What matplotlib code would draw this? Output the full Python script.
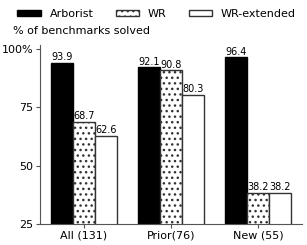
import numpy as np
import matplotlib
matplotlib.use('Agg')
import matplotlib.pyplot as plt

groups = ['All (131)', 'Prior(76)', 'New (55)']
series = ['Arborist', 'WR', 'WR-extended']
arborist = [93.9, 92.1, 96.4]
wr = [68.7, 90.8, 38.2]
wr_ext = [62.6, 80.3, 38.2]
yticks = [25, 50, 75, 100]
ytick_labels = ['25', '50', '75', '100%']

plt.rcParams['hatch.linewidth'] = 1.0
fig = plt.figure(figsize=(3.07, 2.45), dpi=100)
ax = fig.add_axes([0.130, 0.086, 0.854, 0.730])

x = np.arange(len(groups))
w = 0.25
styles = [
    dict(color='black', edgecolor='black'),
    dict(color='white', edgecolor='#333333', hatch='...'),
    dict(color='white', edgecolor='#333333'),
]
for i, (vals, st, name) in enumerate(zip([arborist, wr, wr_ext], styles, series)):
    bars = ax.bar(x + (i - 1) * w, vals, w, bottom=0, linewidth=1.0, label=name, **st)
    for b, v in zip(bars, vals):
        ax.text(b.get_x() + b.get_width() / 2, v + 0.4, f'{v:.1f}',
                ha='center', va='bottom', fontsize=7)

ax.set_ylim(25, 101.7)
ax.set_xlim(-0.506, 2.506)
ax.set_yticks(yticks)
ax.set_yticklabels(ytick_labels, fontsize=8)
ax.set_xticks(x)
ax.set_xticklabels(groups, fontsize=8)
ax.tick_params(axis='both', length=3, width=0.8, color='#555555', pad=2)
for s in ['top', 'right']:
    ax.spines[s].set_visible(False)
for s in ['left', 'bottom']:
    ax.spines[s].set_color('#555555')
    ax.spines[s].set_linewidth(0.8)

fig.text(0.042, 1 - 31 / 245, '% of benchmarks solved', fontsize=8, ha='left', va='center')
fig.legend(loc='center', bbox_to_anchor=(0.51, 1 - 14 / 245), ncol=3, frameon=False,
           fontsize=8, handlelength=2.1, handleheight=0.45, columnspacing=2.0,
           handletextpad=0.8, borderpad=0)

fig.savefig('out.png', dpi=100)
